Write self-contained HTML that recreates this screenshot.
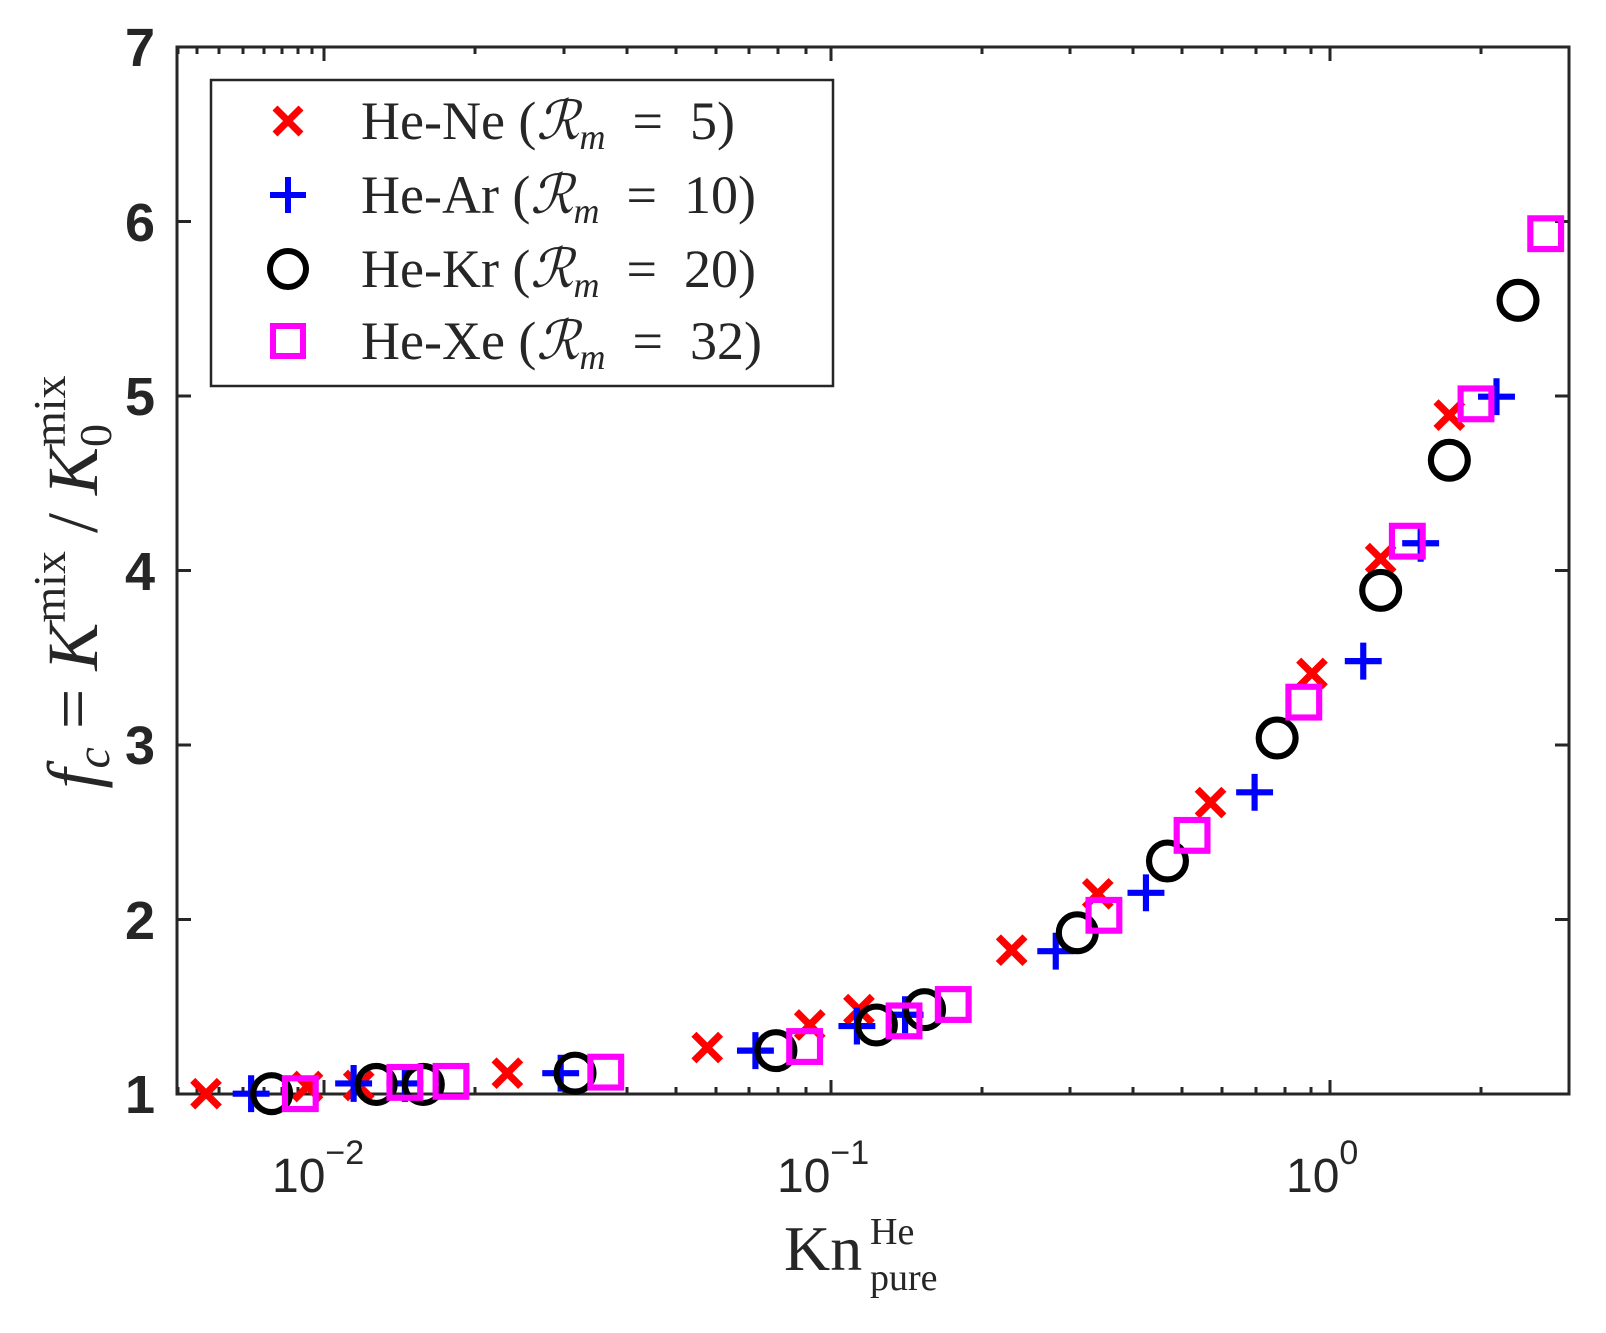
<!DOCTYPE html>
<html><head><meta charset="utf-8"><style>
html,body{margin:0;padding:0;background:#fff;}
svg{display:block;}
</style></head><body>
<svg width="1606" height="1333" viewBox="0 0 1606 1333" xmlns="http://www.w3.org/2000/svg">
<rect width="1606" height="1333" fill="#fff"/>
<g stroke="#262626" stroke-width="3" fill="none">
<rect x="177" y="47" width="1392" height="1047"/>
<path d="M177 919.5h14M177 745h14M177 570.5h14M177 396h14M177 221.5h14 M1569 919.5h-14M1569 745h-14M1569 570.5h-14M1569 396h-14M1569 221.5h-14"/>
<path d="M324 1094v-14M831 1094v-14M1330 1094v-14M324 47v14M831 47v14M1330 47v14"/>
<path d="M178 1094v-7M197 1094v-7M219 1094v-7M243 1094v-7M264 1094v-7M282 1094v-7M298 1094v-7M312 1094v-7
M475 1094v-7M564 1094v-7M627 1094v-7M676 1094v-7M716 1094v-7M749 1094v-7M778 1094v-7M806 1094v-7
M982 1094v-7M1070 1094v-7M1133 1094v-7M1182 1094v-7M1222 1094v-7M1256 1094v-7M1285 1094v-7M1311 1094v-7
M1481 1094v-7M1569 1094v-7
M178 47v7M197 47v7M219 47v7M243 47v7M264 47v7M282 47v7M298 47v7M312 47v7
M475 47v7M564 47v7M627 47v7M676 47v7M716 47v7M749 47v7M778 47v7M806 47v7
M982 47v7M1070 47v7M1133 47v7M1182 47v7M1222 47v7M1256 47v7M1285 47v7M1311 47v7
M1481 47v7"/>
</g>
<g font-family="Liberation Sans, sans-serif" font-weight="bold" font-size="54" fill="#262626" text-anchor="end">
<text x="155" y="1113">1</text>
<text x="155" y="939">2</text>
<text x="155" y="764">3</text>
<text x="155" y="590">4</text>
<text x="155" y="415">5</text>
<text x="155" y="241">6</text>
<text x="155" y="66">7</text>
</g>
<g font-family="Liberation Sans, sans-serif" font-size="48" fill="#262626">
<text x="272" y="1192">10<tspan font-size="34" dy="-28">−2</tspan></text>
<text x="777" y="1192">10<tspan font-size="34" dy="-28">−1</tspan></text>
<text x="1286" y="1192">10<tspan font-size="34" dy="-28">0</tspan></text>
</g>
<g font-family="Liberation Serif, serif" fill="#262626">
<text x="784" y="1270" font-size="64">Kn</text>
<text x="870" y="1244" font-size="38">He</text>
<text x="870" y="1290" font-size="38">pure</text>
<g transform="translate(97,582) rotate(-90)">
<text x="0" y="0" text-anchor="middle" font-size="72"><tspan font-style="italic">f</tspan><tspan font-style="italic" font-size="48" dy="12">c</tspan><tspan dy="-12">&#160;=&#160;</tspan><tspan font-style="italic">K</tspan><tspan font-size="46" dy="-32">mix</tspan><tspan dy="32">&#160;/&#160;</tspan><tspan font-style="italic">K</tspan><tspan font-size="46" dy="14">0</tspan><tspan font-size="46" dx="-23" dy="-46">mix</tspan></text>
</g>
</g>
<rect x="211" y="80" width="622" height="306" fill="#fff" stroke="#262626" stroke-width="2.5"/>
<g font-family="Liberation Serif, serif" font-size="54" fill="#262626">
<text x="361" y="139">He-Ne&#160;(<tspan font-style="italic">ℛ</tspan><tspan font-style="italic" font-size="36" dy="10">m</tspan><tspan dy="-10">&#160;&#160;=&#160;&#160;5)</tspan></text>
<text x="361" y="213">He-Ar&#160;(<tspan font-style="italic">ℛ</tspan><tspan font-style="italic" font-size="36" dy="10">m</tspan><tspan dy="-10">&#160;&#160;=&#160;&#160;10)</tspan></text>
<text x="361" y="287">He-Kr&#160;(<tspan font-style="italic">ℛ</tspan><tspan font-style="italic" font-size="36" dy="10">m</tspan><tspan dy="-10">&#160;&#160;=&#160;&#160;20)</tspan></text>
<text x="361" y="359">He-Xe&#160;(<tspan font-style="italic">ℛ</tspan><tspan font-style="italic" font-size="36" dy="10">m</tspan><tspan dy="-10">&#160;&#160;=&#160;&#160;32)</tspan></text>
</g>
<defs>
<g id="mx"><path d="M-13-13L13 13M-13 13L13-13" stroke="#ff0000" stroke-width="7" fill="none"/></g>
<g id="mp"><path d="M-18 0H18M0-18V18" stroke="#0000ff" stroke-width="6" fill="none"/></g>
<g id="mo"><circle r="18" stroke="#000" stroke-width="6" fill="none"/></g>
<g id="ms"><rect x="-15" y="-15" width="30" height="30" stroke="#ff00ff" stroke-width="6" fill="none"/></g>
</defs>
<use href="#mx" x="288" y="121"/>
<use href="#mp" x="288" y="195"/>
<use href="#mo" x="288" y="269"/>
<use href="#ms" x="288" y="341"/>
<g transform="scale(1.025)">
<use href="#mx" x="201" y="1067"/><use href="#mx" x="300" y="1060"/><use href="#mx" x="350" y="1059"/><use href="#mx" x="495" y="1047"/><use href="#mx" x="690" y="1022"/><use href="#mx" x="790" y="1000"/><use href="#mx" x="838" y="985"/><use href="#mx" x="987" y="927"/><use href="#mx" x="1071" y="872"/><use href="#mx" x="1181" y="783"/><use href="#mx" x="1280" y="657"/><use href="#mx" x="1347" y="545"/><use href="#mx" x="1414" y="405"/>
<use href="#mp" x="245" y="1067"/><use href="#mp" x="345" y="1057"/><use href="#mp" x="395" y="1057"/><use href="#mp" x="547" y="1047"/><use href="#mp" x="737" y="1025"/><use href="#mp" x="836" y="1001"/><use href="#mp" x="883" y="990"/><use href="#mp" x="1030" y="928"/><use href="#mp" x="1118" y="871"/><use href="#mp" x="1224" y="773"/><use href="#mp" x="1330" y="645"/><use href="#mp" x="1386" y="530"/><use href="#mp" x="1460" y="387"/>
<use href="#mo" x="265" y="1067"/><use href="#mo" x="367" y="1058"/><use href="#mo" x="413" y="1058"/><use href="#mo" x="561" y="1047"/><use href="#mo" x="757" y="1025"/><use href="#mo" x="855" y="1000"/><use href="#mo" x="902" y="985"/><use href="#mo" x="1051" y="910"/><use href="#mo" x="1139" y="840"/><use href="#mo" x="1246" y="720"/><use href="#mo" x="1347" y="576"/><use href="#mo" x="1414" y="449"/><use href="#mo" x="1481" y="293"/>
<use href="#ms" x="293" y="1067"/><use href="#ms" x="395" y="1056"/><use href="#ms" x="440" y="1055"/><use href="#ms" x="591" y="1046"/><use href="#ms" x="785" y="1021"/><use href="#ms" x="882" y="996"/><use href="#ms" x="930" y="980"/><use href="#ms" x="1077" y="893"/><use href="#ms" x="1163" y="815"/><use href="#ms" x="1272" y="685"/><use href="#ms" x="1373" y="528"/><use href="#ms" x="1440" y="394"/><use href="#ms" x="1508" y="228"/>
</g>
</svg>
</body></html>
